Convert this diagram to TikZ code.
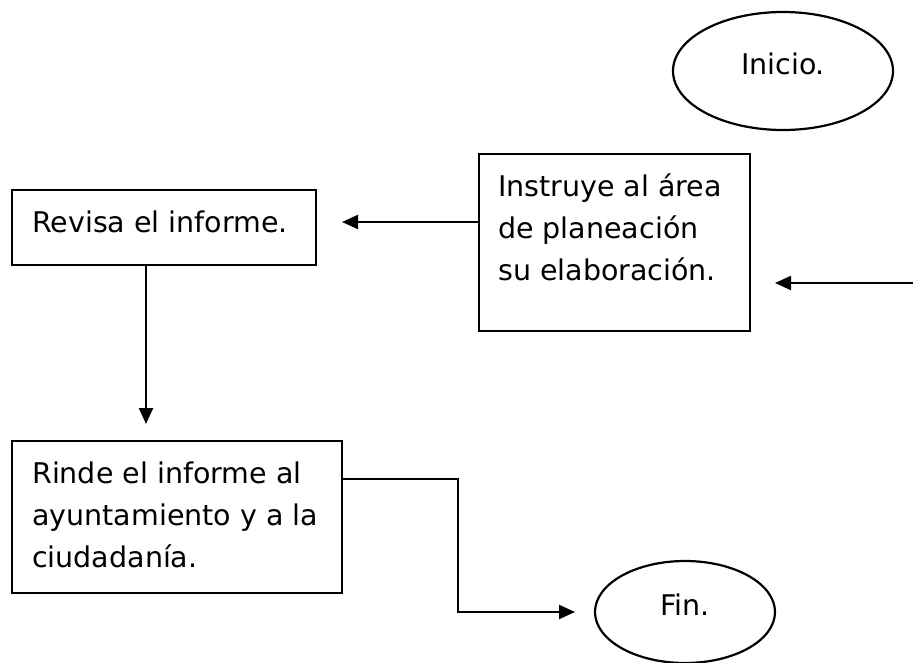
\documentclass[tikz,border=0pt]{standalone}
\usepackage{fontspec}
\setmainfont{DejaVu Sans}
\usetikzlibrary{arrows.meta,shapes.geometric}

\begin{document}
\begin{tikzpicture}[x=1pt,y=-1pt,
  proc/.style={draw, line width=1.5pt, rectangle, anchor=north west, inner sep=0pt},
  term/.style={draw, line width=2.2pt, ellipse, inner sep=0pt, text depth=14pt},
  txt/.style={anchor=base west, align=left, inner sep=0pt},
  flow/.style={line width=2.2pt, -{Triangle[length=16pt,width=14pt]}},
  font=\fontsize{28.5}{42}\selectfont]

\useasboundingbox (0,0) rectangle (913,662);

\node[term, minimum width=220pt, minimum height=118pt] (inicio) at (783,71) {Inicio.};

\node[proc, minimum width=271pt, minimum height=177pt] (instruye) at (478,153) {};
\node[txt] (instruye-t) at ([shift={(20,127)}]instruye.north west) {Instruye al área\\de planeación\\su elaboración.};

\node[proc, minimum width=304pt, minimum height=75pt] (revisa) at (11,189) {};
\node[txt] (revisa-t) at ([shift={(21,43)}]revisa.north west) {Revisa el informe.};

\node[proc, minimum width=330pt, minimum height=152pt] (rinde) at (11,440) {};
\node[txt] (rinde-t) at ([shift={(21,127)}]rinde.north west) {Rinde el informe al\\ayuntamiento y a la\\ciudadanía.};

\node[term, minimum width=180pt, minimum height=102pt] (fin) at (685,612) {Fin.};

\coordinate (edge) at (913,283);
\coordinate (tipA) at (775,283);
\draw[flow] (edge) -- (tipA);

\coordinate (tipB) at (342,222);
\draw[flow] (tipB -| instruye.west) -- (tipB);

\coordinate (tipC) at (146,424);
\draw[flow] (tipC |- revisa.south) -- (tipC);

\coordinate (bend) at (458,479);
\coordinate (tipD) at (575,612);
\draw[flow] (bend -| rinde.east) -- (bend) -- (bend |- tipD) -- (tipD);

\end{tikzpicture}
\end{document}
